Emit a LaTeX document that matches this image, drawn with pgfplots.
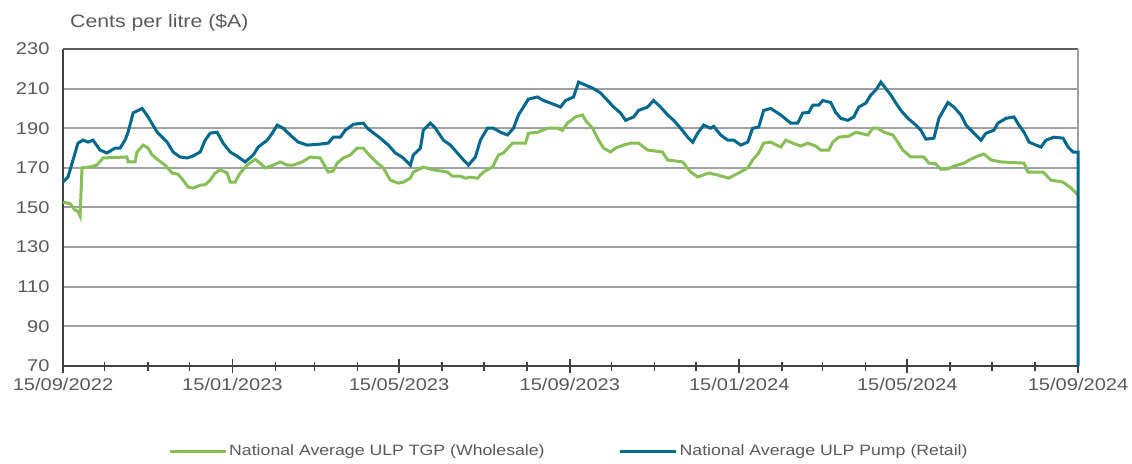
\documentclass[border=0pt]{standalone}
\usepackage{pgfplots}
\pgfplotsset{compat=1.18}
\usepackage{pgfplotstable}
\usepackage{fontspec}
\setmainfont{Liberation Sans}[FakeStretch=1.18]
\definecolor{retail}{HTML}{00688C}
\definecolor{whole}{HTML}{86BF55}
\definecolor{txtgray}{HTML}{595959}
\definecolor{gridgray}{HTML}{A0A0A0}
\definecolor{axdark}{HTML}{404040}

\pgfplotstableread{
day val
0 162.8
3.6 165.4
10.8 182.5
14.4 184
18.0 183
21.6 184
26.7 179
31.7 177.5
37.5 180
41.1 180
44.7 184
46.9 188
50.5 197.7
57.0 200
61.3 195.7
67.8 188
75.0 183
79.3 178
84.3 175.5
89.4 175
93.7 176
98.8 178
102.4 184
106.0 187.5
111.0 188
115.3 182.5
120.4 178
126.2 175.5
131.2 173
137.0 176.5
140.6 180.5
147.1 184
150.7 187.5
154.3 191.6
158.6 190
163.6 186.6
169.4 183
175.9 181.5
185.3 182
191.0 182.5
194.6 185.5
199.7 185.5
203.3 189
209.1 192
216.3 192.6
219.2 190
228.5 185
234.3 181.5
239.4 177.5
245.1 175
250.2 171.4
252.3 176.5
257.4 180
259.5 189
264.6 192.6
268.2 190
273.9 184
279.0 181.5
284.0 177.5
288.4 174
292.0 171.4
297.0 175.5
300.6 184
305.7 190
310.0 190
315.0 188
320.1 186.6
324.4 190
328.0 196.7
335.2 204.7
341.7 205.8
346.0 204
351.1 202.7
358.3 200.7
361.9 204
367.7 205.8
371.3 213.3
376.3 211.8
382.1 210
387.1 207.8
392.2 204
396.5 200.7
401.5 197.7
405.2 194
410.9 195.7
414.5 199
421.0 200.7
425.3 204
430.4 200.7
435.4 196.7
439.8 194
444.8 190
449.9 185.5
453.5 183
457.1 187.5
461.4 191.6
466.4 190
468.6 191
473.6 186.6
478.7 184
483.0 184
488.1 181.5
493.1 183
496.7 190
501.0 190.6
504.6 199
509.7 200
516.9 196.7
524.1 192.6
529.1 192.6
532.7 197.7
537.1 198
540.0 201.7
544.3 201.7
547.2 204
552.9 203
556.5 198
560.1 195
565.2 194
569.5 195.7
573.1 200.7
578.2 202.7
581.8 206.8
585.4 209.3
589.0 213.3
592.6 210
596.2 206.8
599.8 202.7
603.4 199
608.5 195
614.2 191.6
617.8 189
621.4 184.5
627.2 185
630.8 195
637.3 203
641.6 200.7
646.7 196.7
650.3 191.6
656.0 187.5
661.1 184
664.7 187.5
670.4 189
673.3 192.6
679.1 195
684.9 195.7
688.4 191.6
692.1 188
695.7 183
700.7 181.5
704.3 180.5
707.9 184
713.7 185.5
720.2 185
723.8 180.5
727.4 178
731 178
731 70
}\retailtab

\pgfplotstableread{
day val
0 152.7
5.0 152
8.7 148.7
10.8 148
12.3 145.7
13.7 170
19.5 170.5
24.5 171.4
28.8 175
46.1 175.5
46.9 173
51.9 173
53.3 178
57.7 181.5
61.3 180
64.2 176.5
68.5 174
73.5 171.4
78.6 167.4
82.9 166.8
86.5 163.8
90.1 160.3
93.7 159.8
98.8 161.3
102.4 161.5
106.0 163.8
109.6 167.4
113.2 169
118.2 167.4
120.4 162.8
124.0 162.8
127.6 167.4
132.6 171.4
138.4 174.4
142.0 172.4
145.6 170
151.4 171.4
156.4 173
161.5 171.4
165.8 171.4
172.3 173
178.1 175.5
185.3 175
187.4 172.4
191.0 167.9
194.6 168.4
197.5 172.4
201.9 175
206.9 176.5
211.9 180
216.3 180
219.2 177.5
226.4 172.4
230.7 170
235.7 163.8
241.5 162.3
245.1 162.8
250.2 164.8
252.3 167.9
259.5 170.4
266.7 169
276.8 167.9
280.4 165.8
286.2 165.8
289.8 164.8
293.4 165.3
298.5 164.8
302.8 167.9
309.3 170.4
313.6 176.5
317.2 177.5
323.7 182.5
333.1 182.5
335.2 187.5
341.7 188
348.9 190
356.1 190
359.7 189
363.3 192.6
369.1 195.7
374.2 196.7
376.3 194
381.4 190
385.7 184
389.3 180
394.3 178
397.9 180
403.7 181.5
408.8 182.5
414.5 182.5
421.0 179
431.8 178
435.4 174
446.2 173
452.0 167.9
457.1 165.4
465.0 167.4
471.5 166.4
479.4 164.8
486.6 167.4
493.1 170
496.7 174
501.0 177.5
504.6 182.5
509.7 183
516.9 180.5
520.5 184
525.5 182.5
531.3 181
536.4 182.5
542.1 181
545.7 179
551.5 179
554.4 183
558.7 185.5
565.9 186
571.0 188
579.6 186.6
583.2 190
586.8 190
591.1 188
597.6 186.6
601.2 183
604.8 179
610.6 175.5
620.0 175.5
623.6 172.4
628.6 172
632.2 169.3
637.3 169.5
641.6 170.9
648.8 172.4
653.9 174.4
658.9 176
663.2 177
668.3 174
675.5 173
692.1 172.4
694.9 167.9
705.8 167.9
711.5 163.8
720.2 162.8
726.0 159.8
731 156.3
}\wholetab

\begin{document}
\begin{tikzpicture}
\begin{axis}[
  scale only axis,
  width=1015pt, height=317pt,
  xmin=0, xmax=731, ymin=70, ymax=230,
  axis x line*=bottom, axis y line*=left,
  axis line style={axdark, line width=2pt, -},
  xtick={0,122,242,365,487,608,731},
  xticklabels={15/09/2022,15/01/2023,15/05/2023,15/09/2023,15/01/2024,15/05/2024,15/09/2024},
  minor xtick={30,61,91,153,181,212,273,303,334,395,426,456,518,547,578,639,669,700},
  ytick={70,90,...,210},
  extra y ticks={230},
  extra y tick style={ymajorgrids=true, major grid style={axdark!85, line width=2pt}},
  ymajorgrids, xminorgrids=false, xmajorgrids=false,
  major grid style={gridgray, line width=2pt},
  tick align=center,
  major tick length=14pt,
  minor tick length=9pt,
  x tick style={axdark, line width=1.8pt},
  minor x tick style={axdark, line width=1.6pt},
  y tick style={draw=none},
  /pgf/number format/assume math mode=true,
  tick label style={text=txtgray, font=\fontsize{17}{19}\selectfont},
  yticklabel style={xshift=-3pt},
  xticklabel style={yshift=-2pt},
  legend columns=2,
  legend style={at={([xshift=105pt,yshift=-85pt]rel axis cs:0,0)}, anchor=west,
    draw=none, fill=none, inner sep=0pt,
    font=\fontsize{15}{17}\selectfont, text=txtgray,
    /tikz/every even column/.append style={column sep=72pt}},
  legend image code/.code={\draw[#1] (0pt,0pt) -- (56pt,0pt);},
  clip=false,
]
\draw[gridgray, line width=2pt] (rel axis cs:1,0) -- (rel axis cs:1,1);
\addplot[whole, line width=3pt] table[x=day, y=val] {\wholetab};
\addlegendentry{National Average ULP TGP (Wholesale)}
\addplot[retail, line width=3pt] table[x=day, y=val] {\retailtab};
\addlegendentry{National Average ULP Pump (Retail)}
\node[anchor=base west, text=txtgray, font=\fontsize{18}{20}\selectfont, inner sep=0pt]
  at ([xshift=7pt,yshift=21pt]rel axis cs:0,1) {Cents per litre (\$A)};
\end{axis}
\pgfresetboundingbox
\path[use as bounding box] (-63pt,-97pt) rectangle (1069pt,366pt);
\end{tikzpicture}
\end{document}
